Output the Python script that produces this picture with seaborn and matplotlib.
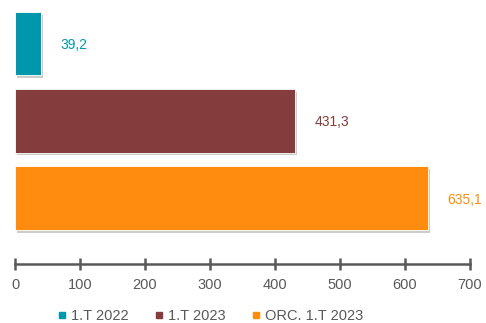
import matplotlib
matplotlib.use("Agg")
import matplotlib.pyplot as plt
import matplotlib.patheffects as pe
import seaborn as sns
import pandas as pd

categories = ["1.T 2022", "1.T 2023", "ORC. 1.T 2023"]
values = [39.2, 431.3, 635.1]
value_labels = ["39,2", "431,3", "635,1"]
colors = ["#0097AC", "#843C3C", "#FF8C0F"]
xticks = [0, 100, 200, 300, 400, 500, 600, 700]

sns.set_theme(style="white")
plt.rcParams["font.family"] = ["Liberation Sans", "DejaVu Sans"]

df = pd.DataFrame({"cat": categories, "val": values})

fig = plt.figure(figsize=(4.86, 3.23), dpi=100)
ax = fig.add_axes([0.031, 0.183, 0.936, 0.802])

sns.barplot(data=df, x="val", y="cat", hue="cat", palette=colors,
            order=categories, hue_order=categories, dodge=False,
            width=0.82, ax=ax, legend=False, saturation=1)

for p in ax.patches:
    p.set_path_effects([pe.SimplePatchShadow(offset=(1.5, -2), shadow_rgbFace="#9a9a9a", alpha=0.5), pe.Normal()])
    p.set_edgecolor("white")
    p.set_linewidth(0.6)

for i, (v, lab, c) in enumerate(zip(values, value_labels, colors)):
    ax.text(v + 30, i + 0.02, lab, color=c, fontsize=10, va="center", ha="left")

ax.set_xlim(0, 700)
ax.set_ylim(2.85, -0.5)
ax.set_xticks(xticks)
ax.set_xticklabels([str(t) for t in xticks])
ax.set_yticks([])
ax.set_xlabel("")
ax.set_ylabel("")
for s in ["top", "right", "left"]:
    ax.spines[s].set_visible(False)
ax.spines["bottom"].set_color("#595959")
ax.spines["bottom"].set_linewidth(1.8)
ax.tick_params(axis="x", direction="inout", length=8, width=1.8, color="#595959",
               labelcolor="#595959", labelsize=10.5, pad=6, bottom=True)

handles = [plt.Line2D([], [], marker="s", linestyle="", markersize=5,
                      markerfacecolor=c, markeredgecolor=c) for c in colors]
fig.legend(handles, categories, loc="center", bbox_to_anchor=(0.43, 0.022),
           ncol=3, frameon=False, fontsize=10.5, handletextpad=0.1,
           columnspacing=1.6, labelcolor="#595959", handlelength=1)

fig.savefig("out.png", dpi=100)
